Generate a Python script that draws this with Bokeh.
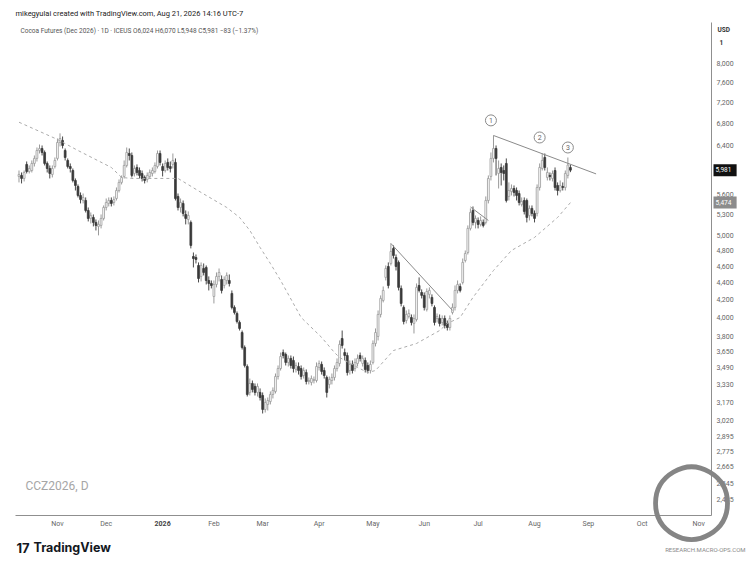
import math
import pandas as pd
from bokeh.plotting import figure
from bokeh.layouts import column
from bokeh.models import Range1d, FixedTicker, NumeralTickFormatter, Label
from bokeh.embed import file_html
from bokeh.resources import INLINE
from bokeh.core.properties import value

# ---------------- data ----------------
start_date = "2025-10-13"
holidays = ["2025-11-27", "2025-12-25", "2026-01-01", "2026-01-19", "2026-02-16",
            "2026-04-03", "2026-05-25", "2026-06-19", "2026-07-03", "2026-09-07"]

opens = [
    5879, 5895, 5847, 6075, 5959, 5975, 6091, 6175, 6310, 6345,
    6276, 6091, 6008, 5911, 6041, 6175, 6450, 6485, 6310, 6141,
    6041, 5975, 5815, 5720, 5582, 5506, 5506, 5358, 5243, 5257,
    5186, 5130, 5144, 5243, 5402, 5462, 5506, 5476, 5536, 5658,
    5784, 5879, 6058, 6259, 6225, 5927, 6025, 5975, 5927, 5863,
    5831, 5879, 5927, 5959, 6041, 6259, 6041, 5975, 6108, 6041,
    6075, 6108, 5567, 5402, 5462, 5300, 5228, 5186, 4726, 4713,
    4612, 4476, 4574, 4587, 4427, 4391, 4238, 4379, 4476, 4439,
    4367, 4427, 4427, 4273, 4113, 4046, 3948, 3841, 3688, 3501,
    3262, 3343, 3316, 3262, 3262, 3235, 3114, 3157, 3182, 3244,
    3271, 3407, 3482, 3637, 3618, 3540, 3579, 3559, 3473, 3501,
    3482, 3416, 3444, 3361, 3352, 3370, 3370, 3492, 3521, 3463,
    3398, 3334, 3370, 3398, 3482, 3530, 3779, 3637, 3608, 3463,
    3521, 3482, 3530, 3608, 3530, 3559, 3511, 3463, 3540, 3728,
    3800, 4035, 4192, 4464, 4599, 4637, 4831, 4713, 4650, 4332,
    4113, 3969, 4013, 4002, 3937, 3980, 4367, 4285, 4250, 4091,
    4262, 4227, 4113, 3991, 3991, 3948, 3991, 3937, 3894, 4057,
    4113, 4308, 4355, 4403, 4675, 4778, 5102, 5358, 5186, 5214,
    5158, 5186, 5186, 5506, 5879, 6175, 6345, 5927, 6025, 5975,
    6091, 5567, 5643, 5689, 5658, 5612, 5447, 5506, 5506, 5286,
    5388, 5315, 5315, 5705, 6008, 6191, 5863, 5895, 5847, 5975,
    5736, 5658, 5720, 5705, 5895, 6024]

highs = [
    5975, 5943, 5975, 6124, 6058, 6141, 6225, 6362, 6414, 6397,
    6310, 6124, 6058, 6058, 6191, 6520, 6612, 6556, 6345, 6175,
    6091, 6008, 5847, 5752, 5628, 5612, 5552, 5402, 5329, 5300,
    5228, 5214, 5300, 5432, 5536, 5552, 5552, 5567, 5705, 5831,
    5895, 6141, 6362, 6345, 6276, 6058, 6075, 6025, 5975, 5895,
    5943, 5992, 6025, 6108, 6310, 6310, 6091, 6141, 6175, 6124,
    6259, 6175, 5612, 5536, 5506, 5358, 5344, 5214, 4778, 4752,
    4650, 4650, 4637, 4612, 4476, 4427, 4427, 4525, 4574, 4488,
    4476, 4525, 4500, 4308, 4136, 4068, 3969, 3862, 3708, 3521,
    3388, 3370, 3343, 3343, 3298, 3262, 3209, 3217, 3271, 3307,
    3435, 3511, 3637, 3667, 3637, 3608, 3608, 3598, 3540, 3540,
    3511, 3492, 3473, 3398, 3416, 3407, 3540, 3559, 3549, 3492,
    3416, 3407, 3435, 3511, 3579, 3759, 3862, 3677, 3637, 3559,
    3559, 3579, 3618, 3637, 3608, 3588, 3540, 3559, 3759, 3884,
    4079, 4250, 4355, 4612, 4650, 4897, 4871, 4752, 4675, 4367,
    4136, 4079, 4091, 4035, 4035, 4391, 4464, 4320, 4285, 4332,
    4344, 4262, 4136, 4046, 4035, 4024, 4024, 3969, 4024, 4158,
    4367, 4427, 4391, 4700, 4804, 5144, 5388, 5417, 5286, 5257,
    5272, 5228, 5567, 5895, 6276, 6574, 6397, 6141, 6091, 6058,
    6175, 5784, 5752, 5736, 5705, 5658, 5552, 5552, 5536, 5432,
    5432, 5358, 5752, 6091, 6259, 6259, 6025, 5943, 5975, 6025,
    5784, 5815, 5784, 5975, 6191, 6070]

lows = [
    5784, 5768, 5799, 5927, 5927, 5943, 6041, 6124, 6259, 6225,
    6058, 5943, 5847, 5863, 6008, 6141, 6380, 6345, 6141, 6008,
    5943, 5784, 5658, 5552, 5462, 5462, 5329, 5200, 5172, 5130,
    5074, 5006, 5102, 5214, 5358, 5417, 5417, 5432, 5506, 5628,
    5752, 5847, 6025, 6141, 5863, 5879, 5895, 5847, 5799, 5768,
    5784, 5847, 5879, 5927, 6008, 6058, 5879, 5943, 5975, 5943,
    6008, 5506, 5358, 5329, 5272, 5158, 5158, 4831, 4587, 4637,
    4403, 4415, 4488, 4379, 4308, 4332, 4158, 4344, 4415, 4273,
    4332, 4379, 4355, 4091, 4035, 3937, 3862, 3667, 3492, 3226,
    3235, 3262, 3235, 3226, 3191, 3080, 3088, 3105, 3157, 3209,
    3253, 3379, 3463, 3579, 3511, 3501, 3482, 3444, 3444, 3425,
    3379, 3388, 3334, 3334, 3325, 3343, 3352, 3463, 3425, 3388,
    3217, 3298, 3334, 3370, 3454, 3501, 3677, 3559, 3416, 3425,
    3435, 3454, 3501, 3549, 3501, 3444, 3435, 3435, 3521, 3698,
    3759, 4002, 4170, 4427, 4332, 4612, 4700, 4549, 4308, 4125,
    3927, 3937, 3991, 3916, 3831, 3958, 4285, 4215, 4079, 4068,
    4215, 4125, 3916, 3948, 3905, 3916, 3884, 3862, 3862, 4035,
    4079, 4273, 4285, 4379, 4650, 4752, 5074, 5144, 5102, 5102,
    5130, 5116, 5158, 5462, 5815, 6108, 5895, 5689, 5736, 5815,
    5476, 5506, 5582, 5567, 5506, 5432, 5417, 5300, 5186, 5214,
    5272, 5186, 5272, 5658, 5975, 5975, 5815, 5815, 5799, 5658,
    5582, 5628, 5658, 5658, 5847, 5948]

closes = [
    5911, 5847, 5943, 5959, 6008, 6091, 6175, 6310, 6345, 6276,
    6091, 6008, 5927, 6008, 6141, 6450, 6520, 6397, 6191, 6041,
    6008, 5815, 5736, 5582, 5521, 5552, 5358, 5243, 5286, 5186,
    5144, 5158, 5243, 5402, 5476, 5506, 5462, 5521, 5658, 5784,
    5863, 6058, 6276, 6225, 5895, 6008, 5943, 5895, 5847, 5815,
    5895, 5943, 5975, 6058, 6259, 6108, 5975, 6091, 6025, 6008,
    6141, 5536, 5402, 5476, 5315, 5243, 5286, 4871, 4700, 4688,
    4451, 4612, 4525, 4427, 4391, 4367, 4379, 4476, 4525, 4308,
    4439, 4488, 4391, 4113, 4057, 3958, 3884, 3688, 3511, 3244,
    3343, 3289, 3262, 3316, 3217, 3114, 3174, 3191, 3244, 3280,
    3407, 3482, 3598, 3608, 3540, 3579, 3511, 3482, 3511, 3463,
    3407, 3463, 3361, 3370, 3388, 3379, 3501, 3530, 3454, 3416,
    3262, 3379, 3398, 3482, 3540, 3718, 3708, 3608, 3444, 3521,
    3463, 3540, 3579, 3579, 3579, 3473, 3463, 3521, 3728, 3841,
    4035, 4215, 4308, 4574, 4367, 4791, 4739, 4599, 4344, 4158,
    3958, 4035, 4046, 3948, 3991, 4344, 4308, 4250, 4113, 4296,
    4308, 4158, 3948, 4013, 3937, 3991, 3916, 3894, 3991, 4113,
    4308, 4379, 4308, 4650, 4765, 5102, 5329, 5186, 5243, 5158,
    5214, 5144, 5506, 5847, 6175, 6345, 6175, 6008, 5943, 5927,
    5506, 5658, 5689, 5628, 5582, 5476, 5491, 5344, 5257, 5388,
    5315, 5243, 5705, 6025, 6141, 6025, 5943, 5879, 5927, 5705,
    5658, 5736, 5705, 5927, 6064, 5981]

# dashed moving average, read at points
ma_dates = ["2025-10-13", "2025-11-03", "2025-11-13", "2025-12-03", "2025-12-09",
            "2025-12-15", "2025-12-31", "2026-01-12", "2026-01-26", "2026-02-09",
            "2026-02-17", "2026-02-23", "2026-02-27", "2026-03-05", "2026-03-11",
            "2026-03-23", "2026-04-02", "2026-04-10", "2026-04-14", "2026-04-23",
            "2026-04-29", "2026-05-04", "2026-05-13", "2026-05-27", "2026-06-09",
            "2026-06-12", "2026-06-22", "2026-06-29", "2026-07-10", "2026-07-21",
            "2026-08-03", "2026-08-14", "2026-08-21"]
ma_values = [6816, 6503, 6310, 6025, 5863, 5847, 5847, 5847, 5628, 5402,
             5257, 5074, 4844, 4637, 4427, 4002, 3790, 3637, 3588, 3492,
             3444, 3463, 3657, 3728, 3862, 3937, 4002, 4227, 4549, 4804,
             4978, 5257, 5474]

# hand-drawn trendlines
trend_a_dates = ["2026-07-10", "2026-09-04"]
trend_a_values = [6574, 5920]
trend_b_dates = ["2026-05-12", "2026-06-16"]
trend_b_values = [4897, 4080]
trend_c_dates = ["2026-06-26", "2026-07-08"]
trend_c_values = [5410, 5214]

# circled wave labels
wave_dates = ["2026-07-09", "2026-08-05", "2026-08-20"]
wave_values = [6850, 6538, 6362]
wave_labels = ["1", "2", "3"]

month_labels = ["Nov", "Dec", "2026", "Feb", "Mar", "Apr", "May", "Jun",
                "Jul", "Aug", "Sep", "Oct", "Nov"]
price_ticks = [2435, 2545, 2665, 2775, 2895, 3020, 3170, 3330, 3490, 3650, 3800,
               4000, 4200, 4400, 4600, 4800, 5000, 5300, 5600, 6400, 6800,
               7200, 7600, 8000]
last_price = 5981
last_ma = 5474

# ---------------- calendar of trading days ----------------
cal = pd.bdate_range(start_date, "2026-11-30", freq="C", holidays=holidays)
pos = {d: i for i, d in enumerate(cal)}


def bar(d):
    return pos[pd.Timestamp(d)]


n = len(closes)
assert len(opens) == n and len(highs) == n and len(lows) == n
idx = list(range(n))
month_pos = [i for i in range(1, len(cal)) if cal[i].month != cal[i - 1].month]

FONT = "Roboto"
W, H = 750, 562
FL, FR, FT, FB = 15, 711, 22, 515          # frame edges on the page (px)
X0, X1 = -1.36, 270.0                      # visible bar-index range
Y0, Y1 = 2332, 8946                        # visible price range (log)

p = figure(width=W, height=H, output_backend="svg", toolbar_location=None,
           y_axis_type="log", y_axis_location="right",
           x_range=Range1d(X0, X1), y_range=Range1d(Y0, Y1),
           min_border_left=FL, min_border_right=W - FR,
           min_border_top=FT, min_border_bottom=H - FB)
p.frame_align = False
p.background_fill_color = "white"
p.border_fill_color = "white"
p.outline_line_color = None
p.xgrid.visible = False
p.ygrid.visible = False

# ---------------- candles ----------------
up_i = [i for i in idx if closes[i] >= opens[i]]
dn_i = [i for i in idx if closes[i] < opens[i]]

p.segment(x0=up_i, y0=[lows[i] for i in up_i], x1=up_i, y1=[highs[i] for i in up_i],
          line_color="#9a9a9a", line_width=1)
p.segment(x0=dn_i, y0=[lows[i] for i in dn_i], x1=dn_i, y1=[highs[i] for i in dn_i],
          line_color="#4a4a4a", line_width=1)
p.vbar(x=up_i, width=0.7, top=[closes[i] for i in up_i], bottom=[opens[i] for i in up_i],
       fill_color="white", line_color="#9a9a9a", line_width=0.8)
p.vbar(x=dn_i, width=0.7, top=[opens[i] for i in dn_i], bottom=[closes[i] for i in dn_i],
       fill_color="#3a3a3a", line_color="#3a3a3a", line_width=0.8)

# moving average
p.line(x=[bar(d) for d in ma_dates], y=ma_values, line_color="#ababab",
       line_width=1, line_dash="3 3")

# trendlines
for ds, vs in [(trend_a_dates, trend_a_values), (trend_b_dates, trend_b_values),
               (trend_c_dates, trend_c_values)]:
    p.line(x=[bar(d) for d in ds], y=vs, line_color="#8a8a8a", line_width=1)

# circled labels
wx = [bar(d) for d in wave_dates]
p.scatter(x=wx, y=wave_values, marker="circle", size=11, fill_color="white",
          line_color="#8a8a8a", line_width=1)
p.text(x=wx, y=wave_values, text=wave_labels, text_align="center", text_baseline="middle",
       text_font=value(FONT), text_font_size="7px", text_color="#666666")

# ---------------- axes ----------------
ya = p.yaxis[0]
ya.ticker = FixedTicker(ticks=price_ticks)
ya.formatter = NumeralTickFormatter(format="0,0")
ya.major_tick_out = 0
ya.major_tick_in = 0
ya.minor_tick_out = 0
ya.minor_tick_in = 0
ya.axis_line_color = "#8f8f8f"
ya.major_label_text_font = FONT
ya.major_label_text_font_size = "7px"
ya.major_label_text_color = "#666666"
ya.major_label_standoff = 5

xa = p.xaxis[0]
xa.ticker = FixedTicker(ticks=month_pos)
xa.major_label_overrides = {pp: ("" if lb == "2026" else lb)
                            for pp, lb in zip(month_pos, month_labels)}
xa.major_tick_out = 0
xa.major_tick_in = 0
xa.minor_tick_out = 0
xa.minor_tick_in = 0
xa.axis_line_color = "#8f8f8f"
xa.major_label_text_font = FONT
xa.major_label_text_font_size = "7px"
xa.major_label_text_color = "#666666"
xa.major_label_standoff = 4

# texts inside the chart area
p.add_layout(Label(x=5, y=FB - 30, x_units="screen", y_units="screen",
                   text="Cocoa Futures (Dec 2026) \u00b7 1D \u00b7 ICEUS  O6,024  H6,070  L5,948  C5,981  \u221283 (\u22121.37%)",
                   text_font=FONT, text_font_size="6.5px", text_color="#555555",
                   text_baseline="middle"))
p.add_layout(Label(x=10, y=FB - 485, x_units="screen", y_units="screen", text="CCZ2026, D",
                   text_font=FONT, text_font_size="12px", text_color="#a6a6a6",
                   text_baseline="middle"))

# ---------------- transparent overlay for texts outside the chart frame ----------------
sx = (X1 - X0) / (FR - FL)
k = math.log(Y1 / Y0) / (FB - FT)
ov = figure(width=W, height=H, output_backend="svg", toolbar_location=None, title=None,
            x_axis_location=None, y_axis_location=None, y_axis_type="log",
            x_range=Range1d(X0 - FL * sx, X1 + (W - FR) * sx),
            y_range=Range1d(Y0 * math.exp(-(H - FB) * k), Y1 * math.exp(FT * k)),
            min_border_left=0, min_border_right=0, min_border_top=0, min_border_bottom=0)
ov.frame_align = False
ov.background_fill_alpha = 0
ov.border_fill_alpha = 0
ov.outline_line_color = None
ov.xgrid.visible = False
ov.ygrid.visible = False
ov.margin = (-H, 0, 0, 0)


def lab(text, x, y, size, color="#333333", align="left", bold=False, font=FONT, **kw):
    # x: page px from the left, y: page px from the top
    ov.add_layout(Label(x=x, y=H - y, x_units="screen", y_units="screen", text=text,
                        text_font=font, text_font_size=size, text_color=color,
                        text_align=align, text_baseline="middle",
                        text_font_style="bold" if bold else "normal", **kw))


lab("mikegyulai created with TradingView.com, Aug 21, 2026 14:16 UTC-7", 15, 13, "7.5px", "#222222")
lab("USD", 717, 29, "6.5px", "#333333", bold=True)
lab("1", 719, 42, "6.5px", "#333333", bold=True)

# bold year label on the time axis
ov.add_layout(Label(x=month_pos[month_labels.index("2026")], y=H - 523,
                    x_units="data", y_units="screen", text="2026",
                    text_font=FONT, text_font_size="7px", text_font_style="bold",
                    text_color="#444444", text_align="center", text_baseline="middle"))

# price tags on the axis
ov.add_layout(Label(x=713, y=last_price, x_units="screen", y_units="data", text=" 5,981 ",
                    text_font=FONT, text_font_size="6.5px", text_color="white",
                    text_baseline="middle", background_fill_color="#111111", padding=2))
ov.add_layout(Label(x=713, y=last_ma, x_units="screen", y_units="data", text=" 5,474 ",
                    text_font=FONT, text_font_size="6.5px", text_color="white",
                    text_baseline="middle", background_fill_color="#8c8c8c", padding=2))

# watermark / footer
lab("\u25ef", 691, 496, "76px", "#858585", align="center", bold=True, font="DejaVu Sans")
lab("17", 16, 547, "13px", "#131722", bold=True, font="Inter")
lab("TradingView", 33, 547, "12.5px", "#131722", bold=True, font="Inter")
lab("RESEARCH.MACRO-OPS.COM", 745, 549, "6px", "#8a8a8a", align="right")

layout = column(p, ov, spacing=0)
open("out.html", "w").write(file_html(layout, INLINE))
